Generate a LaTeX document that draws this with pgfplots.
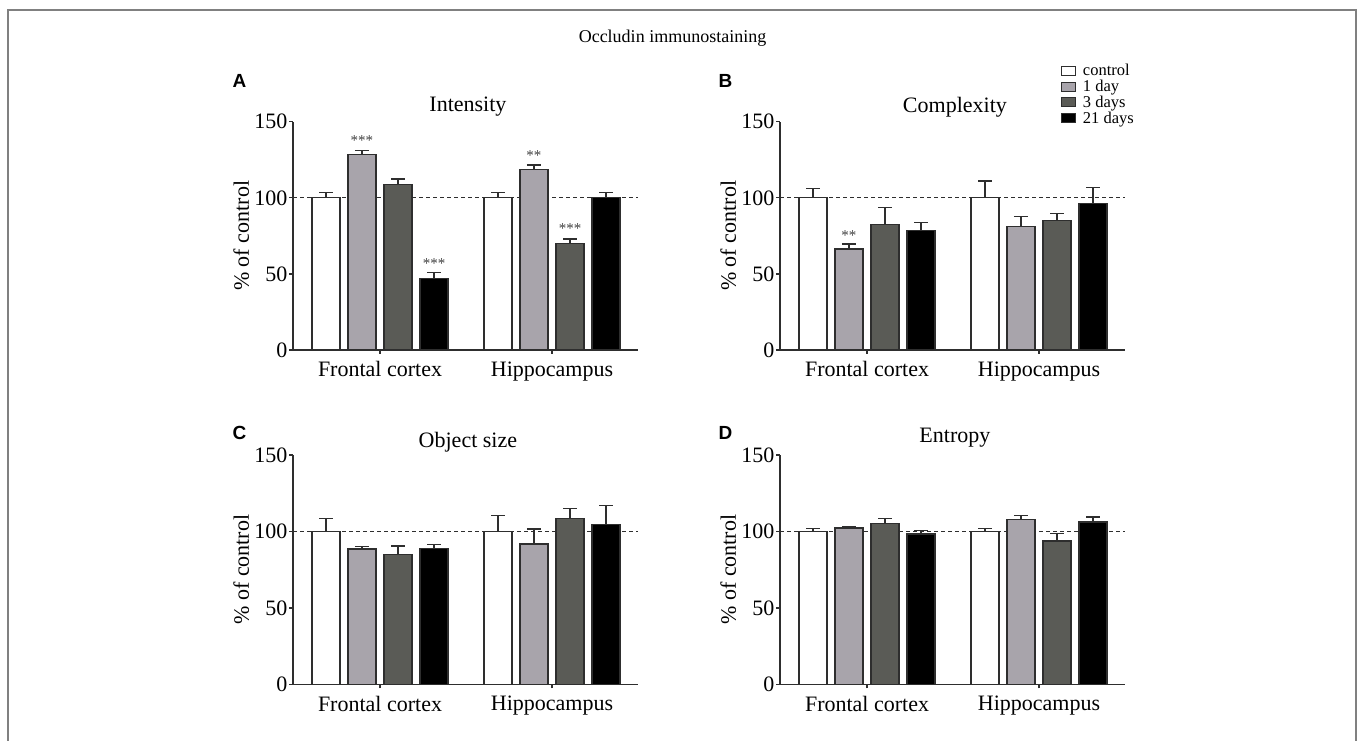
\documentclass[border=0pt]{standalone}
\usepackage{pgfplots}
\pgfplotsset{compat=1.18}
\usepackage{fontspec}
\setmainfont{Liberation Serif}
\newfontfamily\letterfont{Liberation Sans}
\definecolor{cone}{HTML}{A8A4AB}
\definecolor{cthree}{HTML}{5A5B56}
\definecolor{axc}{HTML}{2E2E2E}
\definecolor{framec}{HTML}{808080}
\newcommand\legfont{\fontsize{16.5}{16.5}\selectfont}

\tikzset{stars/.style={font=\fontsize{15}{15}\selectfont, text=black!75, inner sep=0pt}}
\pgfplotsset{
  panel/.style={
    scale only axis,
    width=345pt,
    xmin=-0.506, xmax=1.5,
    ymin=0, ymax=150,
    axis x line*=bottom, axis y line*=left,
    axis line style={line width=1.3pt, color=axc},
    xtick={0,1}, xticklabels={Frontal cortex,Hippocampus},
    ytick={0,50,100,150},
    tick align=outside, major tick length=4pt,
    tick style={line width=1.3pt, color=axc},
    /pgf/number format/assume math mode=true,
    tick label style={font=\fontsize{22}{24}\selectfont},
    yticklabel style={inner sep=1.5pt},
    xticklabel style={inner sep=1.5pt, yshift=-6pt},
    ylabel={\% of control},
    ylabel style={font=\fontsize{22}{24}\selectfont},
    title style={font=\fontsize{22}{24}\selectfont, at={(0.507,1)}, anchor=base},
    clip=false,
    error bars/y dir=plus,
    error bars/y explicit,
    error bars/error bar style={line width=1.3pt, color=axc},
    error bars/error mark options={rotate=90, line width=1.3pt, mark size=7pt, color=axc},
  },
  bars/.style={ybar, bar width=28pt, bar shift=0pt, fill=#1, draw=axc, line width=1.3pt},
  refline/.style={forget plot, dash pattern=on 4pt off 3pt, line width=1pt, color=axc, error bars/y dir=none},
}

\begin{document}
\begin{tikzpicture}[x=1pt,y=1pt]
\useasboundingbox (0,0) rectangle (1358,741);
\draw[framec, line width=2pt] (7.5,-2) -- (7.5,731) -- (1356,731) -- (1356,-2);

\node[anchor=base, font=\fontsize{18}{20}\selectfont] at (672.5,698) {Occludin immunostaining};

\node[font=\letterfont\bfseries\fontsize{19}{20}\selectfont] at (239.5,660) {A};
\node[font=\letterfont\bfseries\fontsize{19}{20}\selectfont] at (725.5,660) {B};
\node[font=\letterfont\bfseries\fontsize{19}{20}\selectfont] at (239.5,308) {C};
\node[font=\letterfont\bfseries\fontsize{19}{20}\selectfont] at (725.5,308) {D};

% Panel A
\begin{axis}[panel, at={(293pt,391pt)}, anchor=south west, height=228.3pt,
  title={Intensity}, title style={yshift=4pt}]
\addplot[refline] coordinates {(-0.506,100) (1.5,100)};
\addplot[bars=white] coordinates {(-0.314,100) +- (0,3.6) (0.686,100) +- (0,3.4)};
\addplot[bars=cone] coordinates {(-0.105,128.3) +- (0,2.9) (0.895,118.7) +- (0,2.8)};
\addplot[bars=cthree] coordinates {(0.105,108.6) +- (0,3.7) (1.105,70.1) +- (0,2.8)};
\addplot[bars=black] coordinates {(0.314,46.9) +- (0,3.9) (1.314,100) +- (0,3.4)};
\node[stars] at (axis cs:-0.105,137.4) {***};
\node[stars] at (axis cs:0.314,56.6) {***};
\node[stars] at (axis cs:0.895,127.8) {**};
\node[stars] at (axis cs:1.105,79.8) {***};
\end{axis}

% Panel B
\begin{axis}[panel, at={(780pt,391pt)}, anchor=south west, height=228.3pt,
  title={Complexity}, title style={yshift=3pt},
  legend style={draw=none, fill=none, at={(0.814,1.255)}, anchor=north west,
    font=\legfont, inner sep=0pt, row sep=1.2pt,
    nodes={inner sep=0.8pt, font=\legfont}},
  legend cell align=left,
  legend image code/.code={\draw[#1, line width=1pt] (0pt,-4.5pt) rectangle (14pt,4.5pt); \path (20pt,0pt);}]
\addplot[refline] coordinates {(-0.506,100) (1.5,100)};
\addplot[bars=white] coordinates {(-0.314,100) +- (0,6) (0.686,100) +- (0,11)};
\addplot[bars=cone] coordinates {(-0.105,66.3) +- (0,3.3) (0.895,81.2) +- (0,6.4)};
\addplot[bars=cthree] coordinates {(0.105,82.5) +- (0,11.2) (1.105,85) +- (0,4.6)};
\addplot[bars=black] coordinates {(0.314,78.4) +- (0,5.2) (1.314,96.1) +- (0,10.8)};
\legend{{\legfont control},{\legfont 1 day},{\legfont 3 days},{\legfont 21 days}}
\node[stars] at (axis cs:-0.105,75) {**};
\end{axis}

% Panel C
\begin{axis}[panel, at={(293pt,56.7pt)}, anchor=south west, height=229.3pt,
  title={Object size}, title style={yshift=1pt}]
\addplot[refline] coordinates {(-0.506,100) (1.5,100)};
\addplot[bars=white] coordinates {(-0.314,100) +- (0,8.4) (0.686,100) +- (0,10.5)};
\addplot[bars=cone] coordinates {(-0.105,88.5) +- (0,1.8) (0.895,91.7) +- (0,9.8)};
\addplot[bars=cthree] coordinates {(0.105,84.8) +- (0,5.7) (1.105,108.3) +- (0,6.8)};
\addplot[bars=black] coordinates {(0.314,88.9) +- (0,2.4) (1.314,104.6) +- (0,12.3)};
\end{axis}

% Panel D
\begin{axis}[panel, at={(780pt,56.7pt)}, anchor=south west, height=229.3pt,
  title={Entropy}, title style={yshift=6pt}]
\addplot[refline] coordinates {(-0.506,100) (1.5,100)};
\addplot[bars=white] coordinates {(-0.314,100) +- (0,2) (0.686,100) +- (0,1.7)};
\addplot[bars=cone] coordinates {(-0.105,102.2) +- (0,0.8) (0.895,107.6) +- (0,2.9)};
\addplot[bars=cthree] coordinates {(0.105,105.3) +- (0,3.1) (1.105,93.7) +- (0,4.8)};
\addplot[bars=black] coordinates {(0.314,98.3) +- (0,2.1) (1.314,106.2) +- (0,3.2)};
\end{axis}
\end{tikzpicture}
\end{document}
